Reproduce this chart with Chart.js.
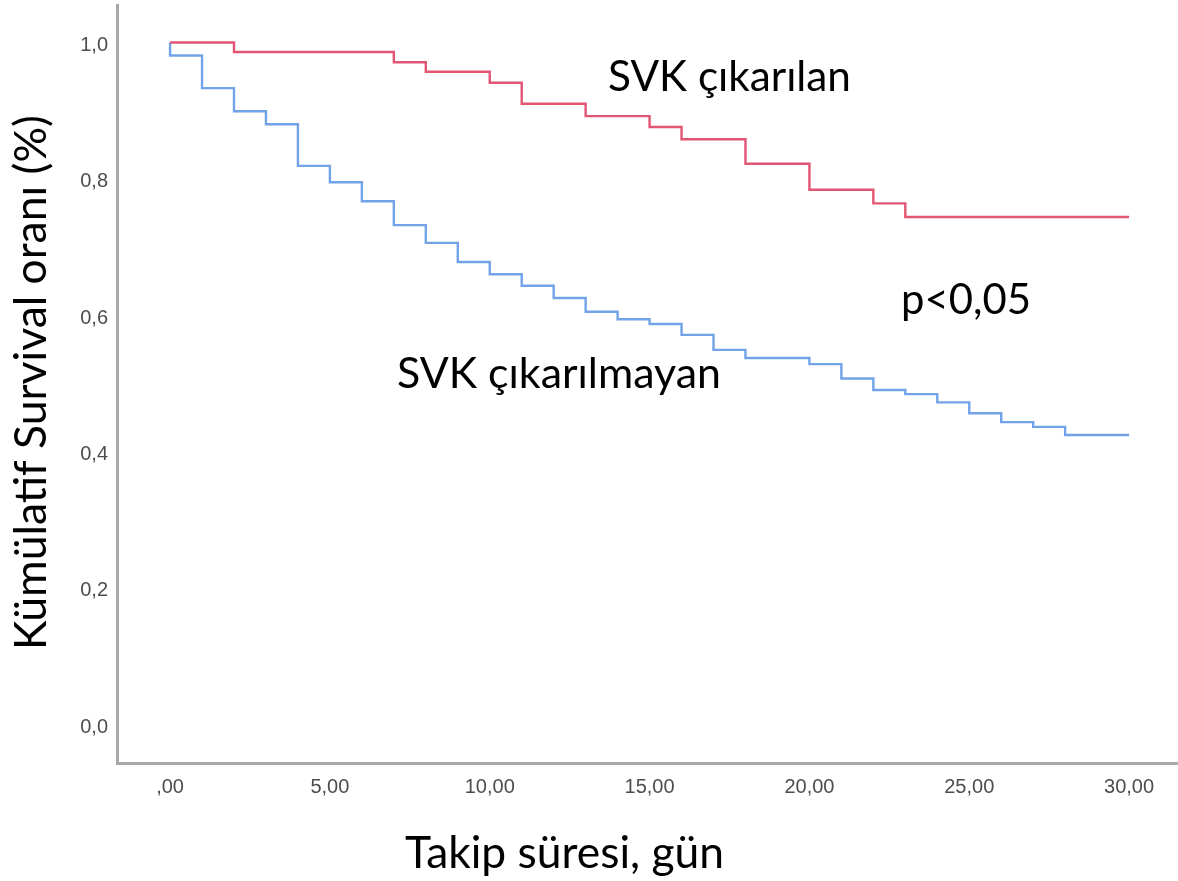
<!DOCTYPE html>
<html>
<head>
<meta charset="utf-8">
<script src="https://cdn.jsdelivr.net/npm/chart.js@4.4.1/dist/chart.umd.min.js"></script>
<style>
  html, body { margin: 0; padding: 0; background: #ffffff; }
  #wrap { width: 1178px; height: 881px; position: relative; }
  canvas { display: block; }
</style>
</head>
<body>
<div id="wrap"><canvas id="c" width="1178" height="881"></canvas></div>
<script>
// ---- data ----
const xTicks = [0, 5, 10, 15, 20, 25, 30];
const xTickLabels = [",00", "5,00", "10,00", "15,00", "20,00", "25,00", "30,00"];
const yTicks = [0, 0.2, 0.4, 0.6, 0.8, 1.0];
const yTickLabels = ["0,0", "0,2", "0,4", "0,6", "0,8", "1,0"];

const redName = "SVK çıkarılan";
const redTimes = [0, 2, 7, 8, 10, 11, 13, 15, 16, 18, 20, 22, 23, 30];
const redSurv  = [1.0, 0.986, 0.971, 0.957, 0.941, 0.910, 0.892, 0.876, 0.858, 0.822, 0.784, 0.764, 0.744, 0.744];

const blueName = "SVK çıkarılmayan";
const blueTimes = [0, 0, 1, 2, 3, 4, 5, 6, 7, 8, 9, 10, 11, 12, 13, 14, 15, 16, 17, 18, 20, 21, 22, 23, 24, 25, 26, 27, 28, 30];
const blueSurv  = [1.0, 0.981, 0.933, 0.899, 0.880, 0.819, 0.795, 0.767, 0.732, 0.706, 0.678, 0.660, 0.643, 0.625, 0.605, 0.594, 0.587, 0.571, 0.549, 0.537, 0.528, 0.507, 0.490, 0.484, 0.472, 0.456, 0.443, 0.436, 0.424, 0.424];

const pText = "p<0,05";
const xTitle = "Takip süresi, gün";
const yTitle = "Kümülatif Survival oranı (%)";

// ---- build datasets ----
const toPts = (t, v) => t.map((x, i) => ({ x: x, y: v[i] }));

const BIG_FONT = "Lato";
function fitFont(ctx, text, target) {
  ctx.font = "100px " + BIG_FONT;
  const w = ctx.measureText(text).width;
  return 100 * target / w;
}

const textPlugin = {
  id: "texts",
  afterDraw(chart) {
    const ctx = chart.ctx;
    ctx.save();
    ctx.fillStyle = "#000000";
    ctx.textBaseline = "alphabetic";
    ctx.textAlign = "left";
    const items = [
      { t: redName,  x: 608, y: 91,  w: 243 },
      { t: blueName, x: 397, y: 388, w: 324 },
      { t: pText,    x: 901, y: 314, w: 130 },
      { t: xTitle,   x: 405, y: 868, w: 319 }
    ];
    items.forEach(it => {
      const s = fitFont(ctx, it.t, it.w);
      ctx.font = s.toFixed(2) + "px " + BIG_FONT;
      ctx.fillText(it.t, it.x, it.y);
    });
    // rotated y title
    const s = fitFont(ctx, yTitle, 535);
    ctx.font = s.toFixed(2) + "px " + BIG_FONT;
    ctx.translate(46, 650);
    ctx.rotate(-Math.PI / 2);
    ctx.fillText(yTitle, 0, 0);
    ctx.restore();
  }
};

const AXIS_COLOR = "#a9a9a9";
const TICK_FONT = { family: "Liberation Sans, Arial, sans-serif", size: 20 };
const TICK_COLOR = "#4d4d4d";

new Chart(document.getElementById("c"), {
  type: "line",
  data: {
    datasets: [
      {
        label: redName,
        data: toPts(redTimes, redSurv),
        borderColor: "#e25573",
        borderWidth: 2.4,
        pointRadius: 0,
        stepped: "before",
        fill: false
      },
      {
        label: blueName,
        data: toPts(blueTimes, blueSurv),
        borderColor: "#72a3e8",
        borderWidth: 2.4,
        pointRadius: 0,
        stepped: "before",
        fill: false
      }
    ]
  },
  options: {
    responsive: false,
    animation: false,
    devicePixelRatio: 1,
    layout: { padding: { top: 5, left: 0, right: 0, bottom: 0 } },
    plugins: { legend: { display: false }, tooltip: { enabled: false } },
    scales: {
      x: {
        type: "linear",
        min: -1.66,
        max: 31.53,
        grid: { display: false, drawTicks: false },
        border: { display: true, color: AXIS_COLOR, width: 3 },
        afterBuildTicks(scale) { scale.ticks = xTicks.map(v => ({ value: v })); },
        ticks: {
          font: TICK_FONT,
          color: TICK_COLOR,
          padding: 12,
          maxRotation: 0,
          autoSkip: false,
          callback(value) { const i = xTicks.indexOf(value); return i >= 0 ? xTickLabels[i] : ""; }
        },
        afterFit(scale) {
          scale.height = 118;
          scale.paddingLeft = 0; scale.paddingRight = 0;
          scale.paddingTop = 0; scale.paddingBottom = 0;
        }
      },
      y: {
        type: "linear",
        min: -0.0572,
        max: 1.055,
        grid: { display: false, drawTicks: false },
        border: { display: true, color: AXIS_COLOR, width: 3 },
        afterBuildTicks(scale) { scale.ticks = yTicks.map(v => ({ value: v })); },
        ticks: {
          font: TICK_FONT,
          color: TICK_COLOR,
          padding: 9,
          labelOffset: 3,
          autoSkip: false,
          callback(value) {
            const i = yTicks.findIndex(v => Math.abs(v - value) < 1e-9);
            return i >= 0 ? yTickLabels[i] : "";
          }
        },
        afterFit(scale) {
          scale.width = 117;
          scale.paddingLeft = 0; scale.paddingRight = 0;
          scale.paddingTop = 0; scale.paddingBottom = 0;
        }
      }
    }
  },
  plugins: [textPlugin]
});
</script>
</body>
</html>
